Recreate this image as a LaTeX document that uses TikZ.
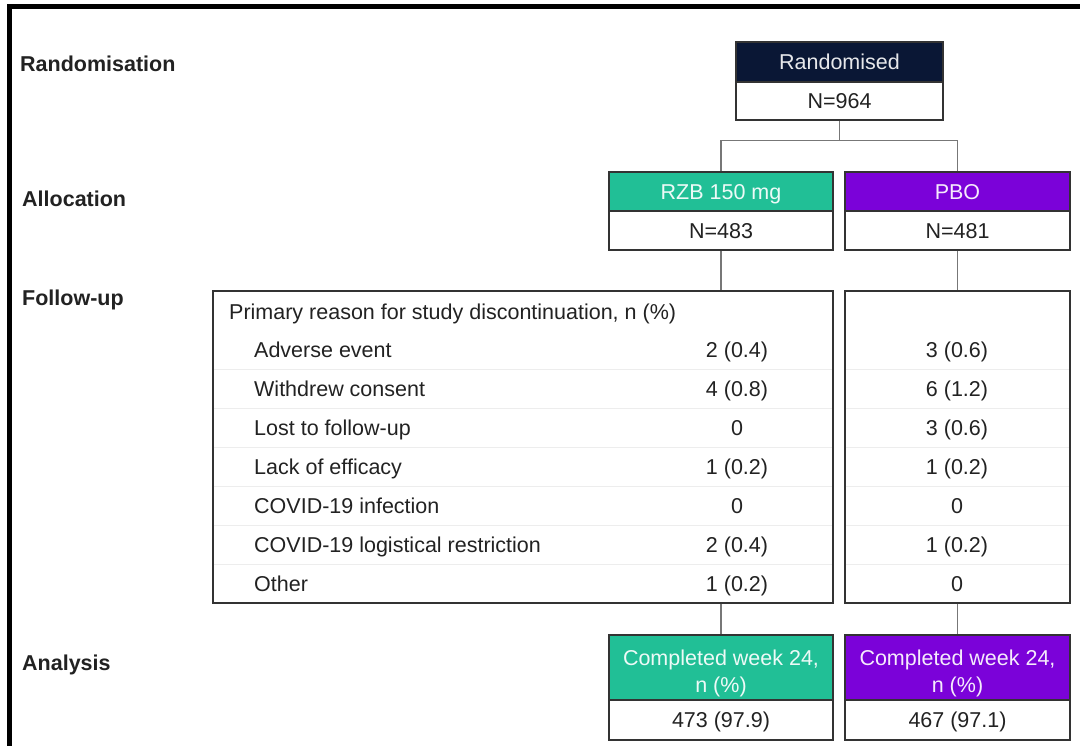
\documentclass[tikz,border=0pt]{standalone}
\usepackage{fontspec}
\setmainfont{Liberation Sans}
\definecolor{navy}{HTML}{0A1735}
\definecolor{teal}{HTML}{21BF96}
\definecolor{purp}{HTML}{7B02D9}
\definecolor{txt}{HTML}{222222}
\definecolor{edge}{HTML}{333333}
\definecolor{conncol}{HTML}{777777}
\definecolor{sepcol}{HTML}{EDEDED}
\begin{document}
\begin{tikzpicture}[x=1pt,y=-1pt,
  every node/.style={font=\fontsize{21.5}{27}\selectfont, text=txt},
  hbox/.style={draw=edge, line width=1.4pt, inner sep=0pt, minimum height=#1, text height=15.4pt, text depth=0pt},
  navyhead/.style={hbox=40, fill=navy, text=white, minimum width=207},
  whitebox/.style={hbox=#1, fill=white},
  teal head/.style={draw=edge, line width=1.4pt, inner sep=0pt, fill=teal, text=white!92!teal, text height=15.4pt, text depth=0pt},
  purp head/.style={draw=edge, line width=1.4pt, inner sep=0pt, fill=purp, text=white!92!purp, text height=15.4pt, text depth=0pt},
  stage/.style={anchor=west, font=\fontsize{21.5}{25}\selectfont\bfseries, text=txt, inner sep=0pt, text height=15.4pt, text depth=0pt},
  rowlabel/.style={anchor=west, inner sep=0pt, text height=15.4pt, text depth=0pt},
  val/.style={inner sep=0pt, text height=15.4pt, text depth=0pt},
  conn/.style={draw=conncol, line width=1.3pt},
  sep/.style={draw=sepcol, line width=1pt}]
\useasboundingbox (0,0) rectangle (1080,746);
% frame
\fill[black] (7,4) rectangle (1080,9);
\fill[black] (7,4) rectangle (12,746);

% stage labels
\node[stage] (lrand) at (20,64) {Randomisation};
\node[stage] (lalloc) at (22,199) {Allocation};
\node[stage] (lfollow) at (22,298) {Follow-up};
\node[stage] (lanal) at (22,663) {Analysis};

% randomised
\node[navyhead, text=white!90!navy] (randh) at (839.5,62) {Randomised};
\node[whitebox=38, minimum width=207] (randw) at (839.5,101) {N=964};

% allocation
\node[teal head, minimum width=224, minimum height=39] (rzbh) at (721,191.5) {RZB 150 mg};
\node[whitebox=39, minimum width=224] (rzbw) at (721,230.5) {N=483};
\node[purp head, minimum width=225, minimum height=39] (pboh) at (957.5,191.5) {PBO};
\node[whitebox=39, minimum width=225] (pbow) at (957.5,230.5) {N=481};

\draw[conn] (randw.south) -- ++(0,20) coordinate (split);
\draw[conn] (rzbh.north) |- (split) -| (pboh.north);

% follow-up tables
\node[whitebox=312, minimum width=620] (tabL) at (523,447) {};
\node[whitebox=312, minimum width=225] (tabR) at (957.5,447) {};
\draw[conn] (rzbw.south) -- (rzbw.south |- tabL.north);
\draw[conn] (pbow.south) -- (pbow.south |- tabR.north);

\foreach \yy in {369.5,408.5,447.5,486.5,525.5,564.5}{
  \draw[sep] ([xshift=1.5pt]tabL.west |- 0,\yy) -- ([xshift=-1.5pt]tabL.east |- 0,\yy);
  \draw[sep] ([xshift=1.5pt]tabR.west |- 0,\yy) -- ([xshift=-1.5pt]tabR.east |- 0,\yy);
}

\node[rowlabel] (hdr) at (229,312) {Primary reason for study discontinuation, n (\%)};
\node[rowlabel] (r1) at (254,350) {Adverse event};
\node[rowlabel] (r2) at (254,389) {Withdrew consent};
\node[rowlabel] (r3) at (254,428) {Lost to follow-up};
\node[rowlabel] (r4) at (254,467) {Lack of efficacy};
\node[rowlabel] (r5) at (254,506) {COVID-19 infection};
\node[rowlabel] (r6) at (254,545) {COVID-19 logistical restriction};
\node[rowlabel] (r7) at (254,584) {Other};

\node[val] (a1) at (737,350) {2 (0.4)};
\node[val] (a2) at (737,389) {4 (0.8)};
\node[val] (a3) at (737,428) {0};
\node[val] (a4) at (737,467) {1 (0.2)};
\node[val] (a5) at (737,506) {0};
\node[val] (a6) at (737,545) {2 (0.4)};
\node[val] (a7) at (737,584) {1 (0.2)};

\node[val] (b1) at (957,350) {3 (0.6)};
\node[val] (b2) at (957,389) {6 (1.2)};
\node[val] (b3) at (957,428) {3 (0.6)};
\node[val] (b4) at (957,467) {1 (0.2)};
\node[val] (b5) at (957,506) {0};
\node[val] (b6) at (957,545) {1 (0.2)};
\node[val] (b7) at (957,584) {0};

% analysis
\node[teal head, minimum width=224, minimum height=65] (rzbc) at (721,667.5) {};
\node[text=white!92!teal, align=center, inner sep=0pt] (rzbct) at (721,673) {Completed week 24,\\n (\%)};
\node[whitebox=40, minimum width=224] (rzbn) at (721,720) {473 (97.9)};
\node[purp head, minimum width=225, minimum height=65] (pboc) at (957.5,667.5) {};
\node[text=white!92!purp, align=center, inner sep=0pt] (pboct) at (957.5,673) {Completed week 24,\\n (\%)};
\node[whitebox=40, minimum width=225] (pbon) at (957.5,720) {467 (97.1)};

\draw[conn] (tabL.south -| rzbc.north) -- (rzbc.north);
\draw[conn] (tabR.south -| pboc.north) -- (pboc.north);
\end{tikzpicture}
\end{document}
